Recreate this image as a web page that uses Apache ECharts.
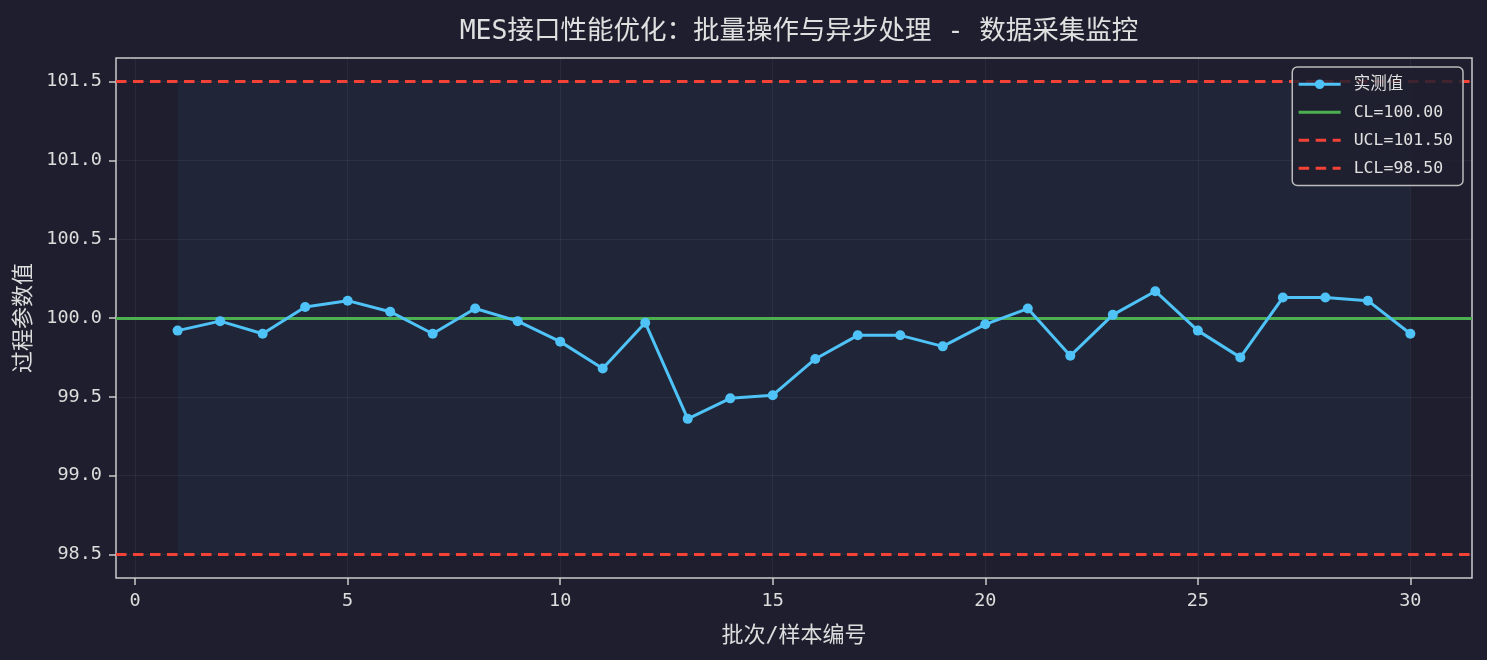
<!DOCTYPE html>
<html>
<head>
<meta charset="utf-8">
<script src="https://cdn.jsdelivr.net/npm/echarts@6/dist/echarts.min.js"></script>
<style>
  html, body { margin: 0; padding: 0; background: #1e1e2e; }
  #chart { width: 1487px; height: 660px; }
</style>
</head>
<body>
<div id="chart"></div>
<script>
// 数据
const batchNo = [1,2,3,4,5,6,7,8,9,10,11,12,13,14,15,16,17,18,19,20,21,22,23,24,25,26,27,28,29,30];
const measured = [99.92,99.98,99.90,100.07,100.11,100.04,99.90,100.06,99.98,99.85,
                  99.68,99.97,99.36,99.49,99.51,99.74,99.89,99.89,99.82,99.96,
                  100.06,99.76,100.02,100.17,99.92,99.75,100.13,100.13,100.11,99.90];
const CL = 100.00, UCL = 101.50, LCL = 98.50;
const xTicks = [0,5,10,15,20,25,30];
const yTicks = [98.5,99.0,99.5,100.0,100.5,101.0,101.5];

const font = "'DejaVu Sans Mono', 'Noto Sans CJK SC', monospace";
const txt = '#dddddd';
const dash = [10.5, 6.5];

const gridLines = xTicks.map(v => ({ xAxis: v })).concat(yTicks.map(v => ({ yAxis: v })));

var myChart = echarts.init(document.getElementById('chart'));

// 控制线（CL/UCL/LCL）做成空数据的折线，只画 markLine
const limitSeries = (name, value, color, type) => ({
    name: name, type: 'line', data: [], color: color, symbol: 'none',
    lineStyle: { color: color, width: 2.8, type: type },
    markLine: {
        silent: true, symbol: 'none', label: { show: false },
        lineStyle: { color: color, width: 2.8, type: type },
        data: [{ yAxis: value }]
    }
});

const limitLegend = name => ({ name: name, itemStyle: { opacity: 0 } });

var option = {
    backgroundColor: '#1e1e2e',
    animation: false,
    title: {
        text: 'MES接口性能优化：批量操作与异步处理 - 数据采集监控',
        left: 794, top: 14, textAlign: 'center',
        textStyle: { color: '#e0e0e0', fontSize: 26.5, fontWeight: 'normal', fontFamily: font }
    },
    grid: {
        left: 116, right: 15, top: 58, bottom: 82,
        show: true, borderColor: '#cccccc', borderWidth: 1.5, backgroundColor: 'transparent'
    },
    legend: {
        orient: 'vertical', right: 24, top: 67, z: 20,
        backgroundColor: 'rgba(30,30,46,0.85)', borderColor: '#bbbbbb', borderWidth: 1.5, borderRadius: 5,
        padding: [9, 10, 9, 5], itemGap: 11.5, itemWidth: 42, itemHeight: 12,
        lineStyle: { width: 2.8 },
        textStyle: { color: '#e0e0e0', fontSize: 16.5, fontFamily: font, padding: [0, 0, 0, 8] },
        data: [
            '实测值',
            limitLegend('CL=' + CL.toFixed(2)),
            limitLegend('UCL=' + UCL.toFixed(2)),
            limitLegend('LCL=' + LCL.toFixed(2))
        ]
    },
    xAxis: {
        type: 'value', min: -0.45, max: 31.45,
        name: '批次/样本编号', nameLocation: 'middle', nameGap: 47,
        nameTextStyle: { color: txt, fontSize: 22, fontFamily: font },
        axisLine: { show: false, onZero: false },
        axisTick: { show: true, length: 7, lineStyle: { color: '#cccccc', width: 1.5 }, customValues: xTicks },
        axisLabel: { color: txt, fontSize: 18.5, fontFamily: font, margin: 14, customValues: xTicks },
        splitLine: { show: false }
    },
    yAxis: {
        type: 'value', min: 98.35, max: 101.65,
        name: '过程参数值', nameLocation: 'middle', nameGap: 71,
        nameTextStyle: { color: txt, fontSize: 22, fontFamily: font },
        axisLine: { show: false, onZero: false },
        axisTick: { show: true, length: 7, lineStyle: { color: '#cccccc', width: 1.5 }, customValues: yTicks },
        axisLabel: { color: txt, fontSize: 18.5, fontFamily: font, margin: 14, customValues: yTicks,
                     formatter: v => v.toFixed(1) },
        splitLine: { show: false }
    },
    series: [
        {
            // 网格线与控制区阴影
            name: 'bg', type: 'line', data: [], silent: true,
            markLine: {
                silent: true, symbol: 'none', label: { show: false },
                lineStyle: { color: 'rgba(255,255,255,0.05)', type: 'solid', width: 1.2 },
                data: gridLines
            },
            markArea: {
                silent: true,
                itemStyle: { color: 'rgba(79,195,247,0.05)' },
                data: [[{ xAxis: batchNo[0], yAxis: LCL }, { xAxis: batchNo[batchNo.length - 1], yAxis: UCL }]]
            }
        },
        limitSeries('CL=' + CL.toFixed(2), CL, '#4caf50', 'solid'),
        limitSeries('UCL=' + UCL.toFixed(2), UCL, '#f44336', dash),
        limitSeries('LCL=' + LCL.toFixed(2), LCL, '#f44336', dash),
        {
            name: '实测值', type: 'line', color: '#4fc3f7', z: 5,
            data: batchNo.map((b, i) => [b, measured[i]]),
            lineStyle: { color: '#4fc3f7', width: 3 },
            itemStyle: { color: '#4fc3f7' },
            symbol: 'circle', symbolSize: 10, showSymbol: true
        }
    ]
};

myChart.setOption(option);
</script>
</body>
</html>
